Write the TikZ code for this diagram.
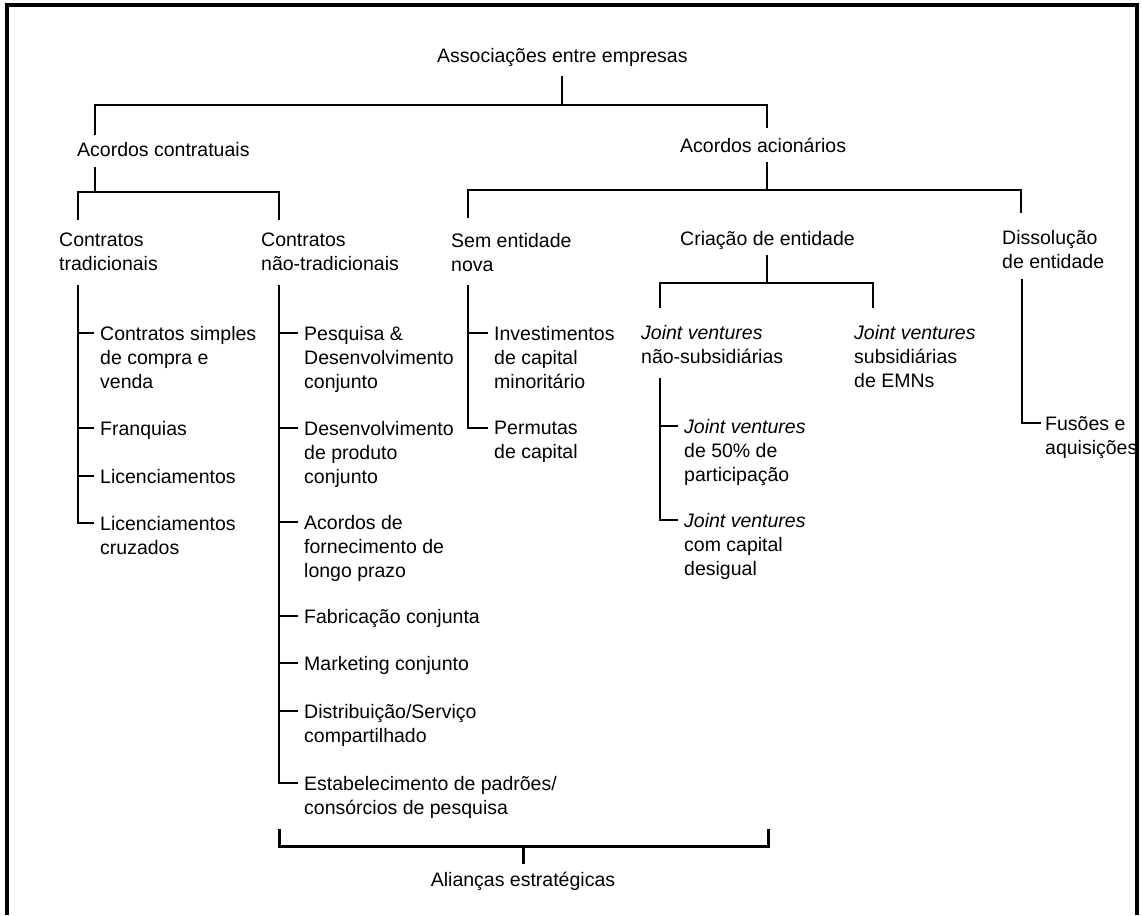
\documentclass[tikz,border=0pt]{standalone}
\usepackage{fontspec}
\setmainfont{Liberation Sans}

\begin{document}
\begin{tikzpicture}[x=1pt,y={(0pt,-1pt)}]
\tikzstyle{every node}+=[inner sep=0pt,anchor=north west,align=left,font=\fontsize{19.5}{24}\selectfont]
\tikzset{link/.style={black,line width=1.3pt},
  brace/.style={black,line width=3pt}}
\useasboundingbox (0,0) rectangle (1142,915);
\draw [line width=3.5pt] (7,915) -- (7,5) -- (1137,5) -- (1137,915);%frame
% upper levels
\node (root) at (437,48) {Associações entre empresas};
\node (contr) at (77,142) {Acordos contratuais};
\node (acion) at (680,138) {Acordos acionários};
\node (trad) at (59,233) {Contratos\\tradicionais};
\node (ntrad) at (261,233) {Contratos\\não-tradicionais};
\node (sem) at (451,233) {Sem entidade\\nova};
\node (cria) at (680,231) {Criação de entidade};
\node (diss) at (1002,230) {Dissolução\\de entidade};
\node (jvns) at (641,325) {\textit{Joint ventures}\\não-subsidiárias};
\node (jvs) at (854,325) {\textit{Joint ventures}\\subsidiárias\\de EMNs};
% contratos tradicionais
\node (simples) at (100,326) {Contratos simples\\de compra e\\venda};
\node (franq) at (100,421) {Franquias};
\node (lic) at (100,469) {Licenciamentos};
\node (licx) at (100,516) {Licenciamentos\\cruzados};
% contratos nao-tradicionais
\node (pd) at (304,326) {Pesquisa \&\\Desenvolvimento\\conjunto};
\node (dp) at (304,421) {Desenvolvimento\\de produto\\conjunto};
\node (forn) at (304,515) {Acordos de\\fornecimento de\\longo prazo};
\node (fab) at (304,609) {Fabricação conjunta};
\node (mkt) at (304,656) {Marketing conjunto};
\node (dist) at (304,704) {Distribuição/Serviço\\compartilhado};
\node (pad) at (304,776) {Estabelecimento de padrões/\\consórcios de pesquisa};
% sem entidade nova
\node (inv) at (494,326) {Investimentos\\de capital\\minoritário};
\node (perm) at (494,421) {Permutas\\de capital};
% joint ventures
\node (jv50) at (684,419) {\textit{Joint ventures}\\de 50\% de\\participação};
\node (jvcap) at (684,513) {\textit{Joint ventures}\\com capital\\desigual};
\node (fus) at (1045,416) {Fusões e\\aquisições};
\node [anchor=north] (alian) at (523,872) {Alianças estratégicas};
% junctions
\coordinate (j0) at (562,105);
\coordinate (j1) at (95,192);
\coordinate (j2) at (767,190);
\coordinate (j3) at (767,283);
\draw [link] (j0) -- ++(0,-29);
\draw [link] (95,135) |- (767,105) -- (767,128);
\draw [link] (j1) -- ++(0,-25);
\draw [link] (78,220) |- (279,192) -- (279,220);
\draw [link] (j2) -- ++(0,-28);
\draw [link] (468,218) |- (1021,190) -- (1021,213);
\draw [link] (j3) -- ++(0,-28);
\draw [link] (660,308) |- (873,283) -- (873,308);
% columns
\draw [link] (78,285) |- ([shift={(-6pt,-7pt)}]licx.north west);
\foreach \n in {simples,franq,lic}
  \draw [link] ([shift={(-6pt,-7pt)}]\n.north west) -- ++(-16,0);
\draw [link] (279,285) |- ([shift={(-6pt,-7pt)}]pad.north west);
\foreach \n in {pd,dp,forn,fab,mkt,dist}
  \draw [link] ([shift={(-6pt,-7pt)}]\n.north west) -- ++(-19,0);
\draw [link] (468,285) |- ([shift={(-6pt,-7pt)}]perm.north west);
\draw [link] ([shift={(-6pt,-7pt)}]inv.north west) -- ++(-20,0);
\draw [link] (660,378) |- ([shift={(-6pt,-7pt)}]jvcap.north west);
\draw [link] ([shift={(-6pt,-7pt)}]jv50.north west) -- ++(-18,0);
\draw [link] (1022,279) |- ([shift={(-4pt,-7pt)}]fus.north west);
% alliances bracket
\draw [brace] (279,829) |- (768,846) -- (768,829);
\draw [brace] (523,846) -- ([yshift=8pt]alian.north);
\end{tikzpicture}
\end{document}
